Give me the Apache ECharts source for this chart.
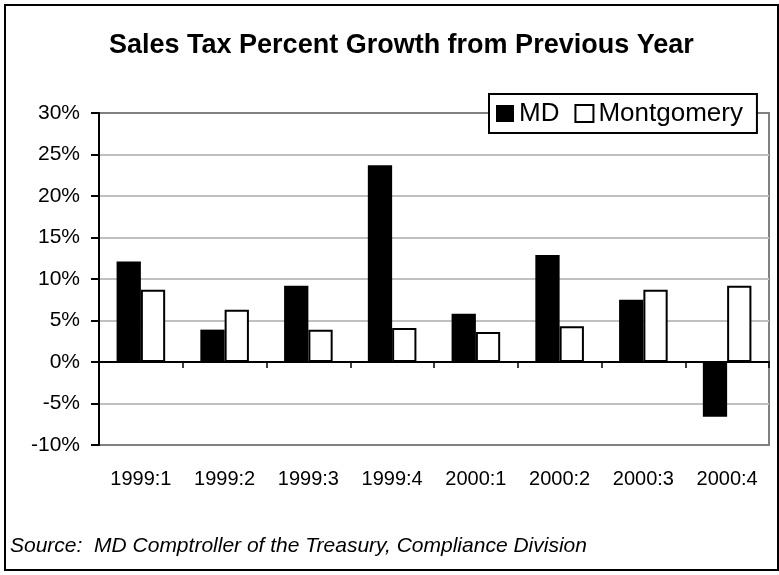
<!DOCTYPE html>
<html>
<head>
<meta charset="utf-8">
<title>Sales Tax Percent Growth from Previous Year</title>
<script src="https://cdn.jsdelivr.net/npm/echarts@6/dist/echarts.min.js"></script>
<style>
  html, body { margin: 0; padding: 0; background: #fff; }
  #chart { width: 779px; height: 575px; }
</style>
</head>
<body>
<div id="chart"></div>
<script>
// Quarter labels and year-over-year sales tax growth (percent)
const quarters = ['1999:1', '1999:2', '1999:3', '1999:4', '2000:1', '2000:2', '2000:3', '2000:4'];
const mdGrowth = [12.1, 3.9, 9.2, 23.7, 5.8, 12.9, 7.5, -6.6];
const montgomeryGrowth = [8.7, 6.3, 3.9, 4.1, 3.6, 4.3, 8.7, 9.2];
const seriesNames = ['MD', 'Montgomery'];
const titleText = 'Sales Tax Percent Growth from Previous Year';
const sourceText = 'Source:  MD Comptroller of the Treasury, Compliance Division';

const FONT = '"Liberation Sans", Arial, Helvetica, sans-serif';

const chart = echarts.init(document.getElementById('chart'), null, { renderer: 'canvas' });

chart.setOption({
  animation: false,
  backgroundColor: '#fff',
  textStyle: { fontFamily: FONT, color: '#000' },
  title: [
    {
      text: titleText,
      left: 109,
      top: 32,
      padding: 0,
      textStyle: { fontFamily: FONT, fontSize: 27, fontWeight: 'bold', color: '#000' }
    },
    {
      text: sourceText,
      left: 10,
      top: 536,
      padding: 0,
      textStyle: { fontFamily: FONT, fontSize: 21, fontStyle: 'italic', fontWeight: 'normal', color: '#000' }
    }
  ],
  graphic: [
    {
      // outer frame around the whole chart
      type: 'rect',
      z: -1,
      shape: { x: 5, y: 5, width: 773, height: 565 },
      style: { fill: null, stroke: '#000', lineWidth: 2 }
    }
  ],
  legend: {
    data: seriesNames,
    left: 489,
    top: 94,
    orient: 'horizontal',
    padding: [6, 14, 6, 7],
    itemGap: 15,
    itemWidth: 18,
    itemHeight: 17,
    icon: 'rect',
    backgroundColor: '#fff',
    borderColor: '#000',
    borderWidth: 2,
    borderRadius: 0,
    z: 10,
    textStyle: { fontFamily: FONT, fontSize: 26, lineHeight: 27, color: '#000' }
  },
  grid: {
    left: 99,
    right: 10,
    top: 113,
    bottom: 130,
    show: true,
    borderColor: '#808080',
    borderWidth: 2,
    backgroundColor: 'transparent'
  },
  xAxis: [
    {
      // category labels along the bottom of the plot
      type: 'category',
      data: quarters,
      position: 'bottom',
      axisLine: { show: false, onZero: false },
      axisTick: { show: false },
      axisLabel: {
        margin: 24,
        fontFamily: FONT,
        fontSize: 20,
        color: '#000'
      },
      splitLine: { show: false }
    },
    {
      // zero baseline with ticks between categories
      type: 'category',
      data: quarters,
      position: 'bottom',
      axisLine: { show: true, onZero: true, lineStyle: { color: '#000', width: 2 } },
      axisTick: { show: true, length: 6, inside: false, lineStyle: { color: '#000', width: 1.5 } },
      axisLabel: { show: false },
      splitLine: { show: false }
    }
  ],
  yAxis: {
    type: 'value',
    min: -10,
    max: 30,
    interval: 5,
    axisLine: { show: true, lineStyle: { color: '#000', width: 2 } },
    axisTick: { show: true, length: 8, lineStyle: { color: '#000', width: 2 } },
    axisLabel: {
      formatter: '{value}%',
      margin: 19,
      fontFamily: FONT,
      fontSize: 21,
      color: '#000'
    },
    splitLine: {
      show: true,
      showMinLine: false,
      showMaxLine: false,
      lineStyle: { color: '#c0c0c0', width: 2 }
    }
  },
  series: [
    {
      name: seriesNames[0],
      type: 'bar',
      xAxisIndex: 0,
      data: mdGrowth,
      barGap: '0%',
      barCategoryGap: '42%',
      itemStyle: { color: '#000', borderColor: '#000', borderWidth: 0 }
    },
    {
      name: seriesNames[1],
      type: 'bar',
      xAxisIndex: 0,
      data: montgomeryGrowth,
      barGap: '0%',
      barCategoryGap: '42%',
      itemStyle: { color: '#fff', borderColor: '#000', borderWidth: 2 }
    }
  ]
});
</script>
</body>
</html>
